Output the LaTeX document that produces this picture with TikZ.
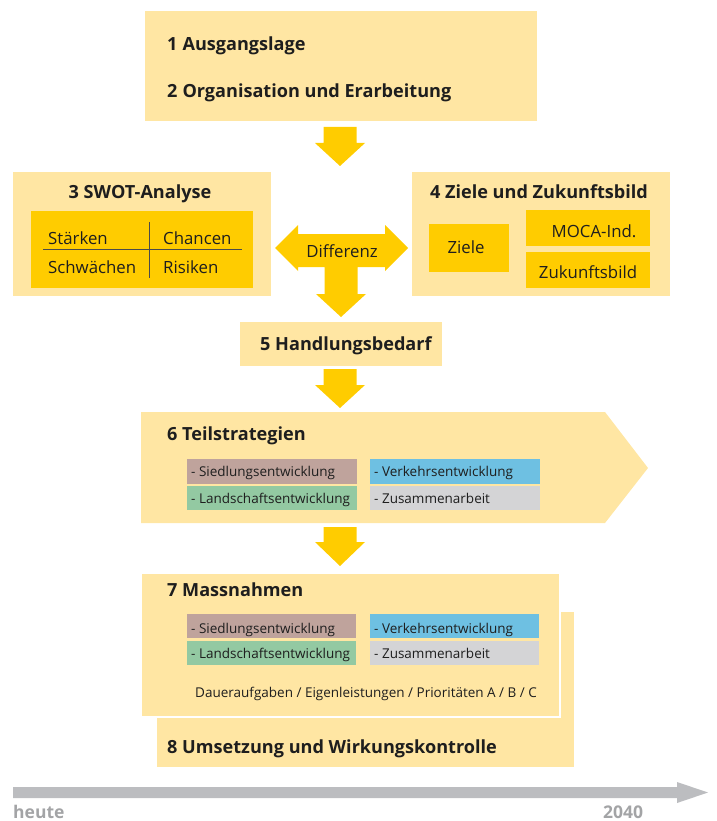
\documentclass[tikz,border=0pt]{standalone}
\usepackage{fontspec}
\setmainfont{Open Sans}
\definecolor{lightY}{HTML}{FFE6A3}
\definecolor{darkY}{HTML}{FFCC00}
\definecolor{txt}{HTML}{1E1E1E}
\definecolor{cSied}{HTML}{BFA39C}
\definecolor{cVerk}{HTML}{6EC0E2}
\definecolor{cLand}{HTML}{93C9A2}
\definecolor{cZus}{HTML}{D4D4D6}
\definecolor{tgray}{HTML}{BCBDC0}
\definecolor{tgtext}{HTML}{A3A4A6}
\newcommand\boxnode[6]{\node[#2, anchor=north west, minimum width={(#5)-(#3)}, minimum height={(#6)-(#4)}] (#1) at (#3,#4) {};}
% name, cx, ytop, yhead, ytip
\newcommand\blockdn[5]{\fill[darkY] (#2-16.5,#3) -- (#2+16.5,#3) -- (#2+16.5,#4) -- (#2+25,#4) -- (#2,#5) -- (#2-25,#4) -- (#2-16.5,#4) -- cycle; \coordinate (#1) at (#2,#5);}
\begin{document}
\begin{tikzpicture}[x=1pt,y=-1pt,
  panel/.style={fill=lightY, inner sep=0pt, outer sep=0pt},
  inner/.style={fill=darkY, inner sep=0pt, outer sep=0pt},
  title/.style={font=\fontsize{18.1}{21}\selectfont\bfseries, text=txt, inner sep=0pt},
  swot/.style={font=\fontsize{16.8}{19}\selectfont, text=txt, inner sep=0pt},
  item/.style={font=\fontsize{13.5}{16}\selectfont, text=txt, inner sep=0pt},
  tl/.style={font=\fontsize{17.5}{20}\selectfont\bfseries, text=tgtext, inner sep=0pt},
  crossline/.style={draw=txt!80, line width=1pt}]
\useasboundingbox (0,0) rectangle (716,821);

% 1/2
\boxnode{b12}{panel}{145}{11}{537}{121}
\node[title, anchor=base west] (t1) at (167,51) {1\hspace{5pt}Ausgangslage};
\node[title, anchor=base west] (t2) at (167,98) {2\hspace{5pt}Organisation und Erarbeitung};
\blockdn{a1}{340}{127}{143}{166}

% 3 SWOT
\boxnode{b3}{panel}{13}{172}{271}{296}
\node[title, anchor=base] (t3) at (140,198) {3 SWOT-Analyse};
\boxnode{sw}{inner}{31}{211}{253}{288}
\draw[crossline] (43,249.5) -- (242,249.5);
\draw[crossline] (149,222) -- (149,278);
\node[swot, anchor=base west] (st) at (48,244) {Stärken};
\node[swot, anchor=base west] (ch) at (163,244) {Chancen};
\node[swot, anchor=base west] (sc) at (48,273) {Schwächen};
\node[swot, anchor=base west] (ri) at (163,273) {Risiken};

% 4 Ziele
\boxnode{b4}{panel}{412}{172}{670}{296}
\node[title, anchor=base] (t4) at (539,198) {4 Ziele und Zukunftsbild};
\boxnode{zi}{inner}{429}{224}{509}{272}
\boxnode{mo}{inner}{526}{210}{650}{246}
\boxnode{zu}{inner}{526}{252}{650}{288}
\node[swot, anchor=base] at (466,253) {Ziele};
\node[swot, anchor=base] at (594,237) {MOCA-Ind.};
\node[swot, anchor=base] at (588,278) {Zukunftsbild};

% Differenz arrow
\fill[darkY] (275,248) -- (298,225) -- (298,234) -- (385,234) -- (385,225) -- (408,248)
  -- (385,271) -- (385,267) -- (357.5,267) -- (357.5,294) -- (366,294) -- (341,317)
  -- (316,294) -- (324.5,294) -- (324.5,267) -- (298,267) -- (298,271) -- cycle;
\node[swot, anchor=base] (dif) at (342,257) {Differenz};

% 5
\boxnode{b5}{panel}{240}{322}{442}{366}
\node[title, anchor=base west] (t5) at (260,350) {5 Handlungsbedarf};
\blockdn{a3}{340}{369}{385}{408}

% 6
\fill[lightY] (141,412) -- (605,412) -- (648,468) -- (605,523) -- (141,523) -- cycle;
\coordinate (b6) at (141,412);
\node[title, anchor=base west] (t6) at (167,440) {6 Teilstrategien};
\boxnode{s6}{fill=cSied}{187}{459}{357}{484}
\boxnode{l6}{fill=cLand}{187}{486}{357}{510}
\boxnode{v6}{fill=cVerk}{370}{459}{540}{484}
\boxnode{z6}{fill=cZus}{370}{486}{540}{510}
\node[item, anchor=base west] at (191,476) {- Siedlungsentwicklung};
\node[item, anchor=base west] at (191,503) {- Landschaftsentwicklung};
\node[item, anchor=base west] at (374,476) {- Verkehrsentwicklung};
\node[item, anchor=base west] at (374,503) {- Zusammenarbeit};
\blockdn{a4}{340}{527}{542}{566}

% 8 (behind 7)
\boxnode{b8}{panel}{157}{612}{574}{767}
\node[title, anchor=base west] (t8) at (167,753) {8 Umsetzung und Wirkungskontrolle};

% 7
\boxnode{b7}{panel, draw=white, line width=2.5pt}{141}{573}{560}{717}
\node[title, anchor=base west] (t7) at (167,596) {7 Massnahmen};
\boxnode{s7}{fill=cSied}{187}{614}{356}{638}
\boxnode{l7}{fill=cLand}{187}{641}{356}{665}
\boxnode{v7}{fill=cVerk}{370}{614}{539}{638}
\boxnode{z7}{fill=cZus}{370}{641}{539}{665}
\node[item, anchor=base west] at (191,633) {- Siedlungsentwicklung};
\node[item, anchor=base west] at (191,658) {- Landschaftsentwicklung};
\node[item, anchor=base west] at (374,633) {- Verkehrsentwicklung};
\node[item, anchor=base west] at (374,658) {- Zusammenarbeit};
\node[item, anchor=base west] (dau) at (195,697) {Daueraufgaben / Eigenleistungen / Prioritäten A / B / C};

% timeline
\fill[tgray] (13,787) -- (677,787) -- (677,782) -- (708,792.5) -- (677,803) -- (677,798) -- (13,798) -- cycle;
\node[tl, anchor=base west] (heute) at (13,818) {heute};
\node[tl, anchor=base west] (y2040) at (603,818) {2040};
\end{tikzpicture}
\end{document}
